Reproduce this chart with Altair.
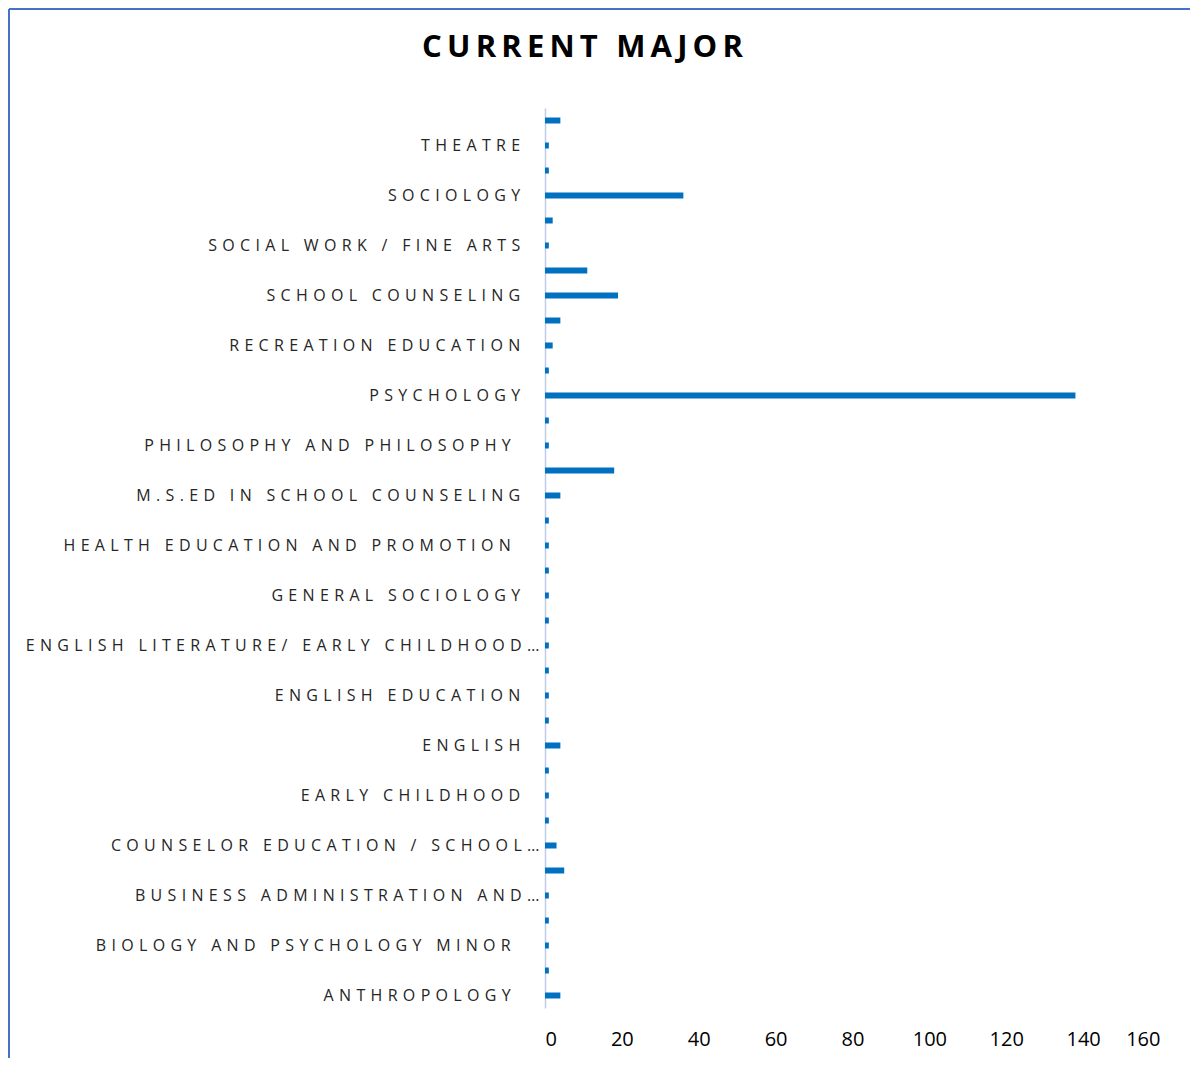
import json
import altair as alt
import pandas as pd

# Categories listed top to bottom as they appear on the chart
majors = [
    "UNDECIDED",
    "THEATRE",
    "SPECIAL EDUCATION",
    "SOCIOLOGY",
    "SOCIAL WORK AND PSYCHOLOGY",
    "SOCIAL WORK / FINE ARTS",
    "SOCIAL WORK",
    "SCHOOL COUNSELING",
    "REHABILITATION COUNSELING",
    "RECREATION EDUCATION",
    "PSYCHOLOGY AND SOCIOLOGY",
    "PSYCHOLOGY",
    "POLITICAL SCIENCE",
    "PHILOSOPHY AND PHILOSOPHY ",
    "MENTAL HEALTH COUNSELING",
    "M.S.ED IN SCHOOL COUNSELING",
    "HUMAN DEVELOPMENT",
    "HEALTH EDUCATION AND PROMOTION ",
    "HEALTH EDUCATION",
    "GENERAL SOCIOLOGY",
    "FAMILY STUDIES",
    "ENGLISH LITERATURE/ EARLY CHILDHOOD…",
    "ENGLISH LITERATURE",
    "ENGLISH EDUCATION",
    "ENGLISH AND PSYCHOLOGY",
    "ENGLISH",
    "EARLY CHILDHOOD EDUCATION",
    "EARLY CHILDHOOD",
    "CRIMINAL JUSTICE",
    "COUNSELOR EDUCATION / SCHOOL…",
    "COUNSELING",
    "BUSINESS ADMINISTRATION AND…",
    "BUSINESS ADMINISTRATION",
    "BIOLOGY AND PSYCHOLOGY MINOR ",
    "ART",
    "ANTHROPOLOGY ",
]
counts = [4, 1, 1, 36, 2, 1, 11, 19, 4, 2, 1, 138, 1, 1, 18, 4, 1, 1,
          1, 1, 1, 1, 1, 1, 1, 4, 1, 1, 1, 3, 5, 1, 1, 1, 1, 4]

# Only every other category label is printed on the axis
shown_labels = majors[1::2]
x_ticks = [0, 20, 40, 60, 80, 100, 120, 140, 160]
title_text = "CURRENT MAJOR"

df = pd.DataFrame({"major": majors, "count": counts})

SEP = "\u2004"                             # letter spacing between characters
TAIL = "\u00a0" * 4 + "\u2006" + "\u200b"  # trailing gap for non-truncated labels
shown_js = json.dumps(shown_labels, ensure_ascii=False)
label_expr = (
    f"indexof({shown_js}, datum.value) < 0 ? '' : "
    f"join(split(datum.value, ''), '{SEP}') + "
    f"(indexof(datum.value, '\u2026') >= 0 ? '' : '{TAIL}')"
)
title_expr = f"join(split({json.dumps(title_text)}, ''), '\u2006')"

FONT = "Open Sans"

bars = alt.Chart(df).mark_bar(size=6, color="#0070C0").encode(
    x=alt.X(
        "count:Q",
        scale=alt.Scale(domain=[0, 160], nice=False),
        axis=alt.Axis(
            values=x_ticks, title=None, domain=False, ticks=False, grid=False,
            labelFont=FONT, labelFontSize=20, labelColor="#000000",
            labelPadding=21,
        ),
    ),
    y=alt.Y(
        "major:N",
        sort=majors,
        axis=alt.Axis(
            title=None, ticks=False, grid=False, domain=True,
            domainColor="#BFCDE8", domainWidth=1.5,
            labelExpr=label_expr, labelFont=FONT, labelFontSize=16,
            labelColor="#262626", labelPadding=6, labelLimit=700,
        ),
    ),
)

frame = alt.Data(values=[{}])
border_left = alt.Chart(frame).mark_rule(color="#4472C4", strokeWidth=2).encode(
    x=alt.value(-536), y=alt.value(-99), y2=alt.value(950)
)
border_top = alt.Chart(frame).mark_rule(color="#4472C4", strokeWidth=2).encode(
    x=alt.value(-536), x2=alt.value(645), y=alt.value(-99)
)

chart = alt.layer(bars, border_left, border_top).properties(
    width=615,
    height=900,
    background="white",
    autosize=alt.AutoSizeParams(type="none"),
    padding={"left": 537, "top": 100, "right": 30, "bottom": 50},
    title=alt.TitleParams(
        alt.ExprRef(title_expr), font=FONT, fontSize=31, fontWeight="bold",
        color="#000000", anchor="middle", dx=-270, offset=-56,
    ),
).configure_view(strokeWidth=0)

chart.save("out.html", embed_options={"renderer": "svg", "actions": False})
